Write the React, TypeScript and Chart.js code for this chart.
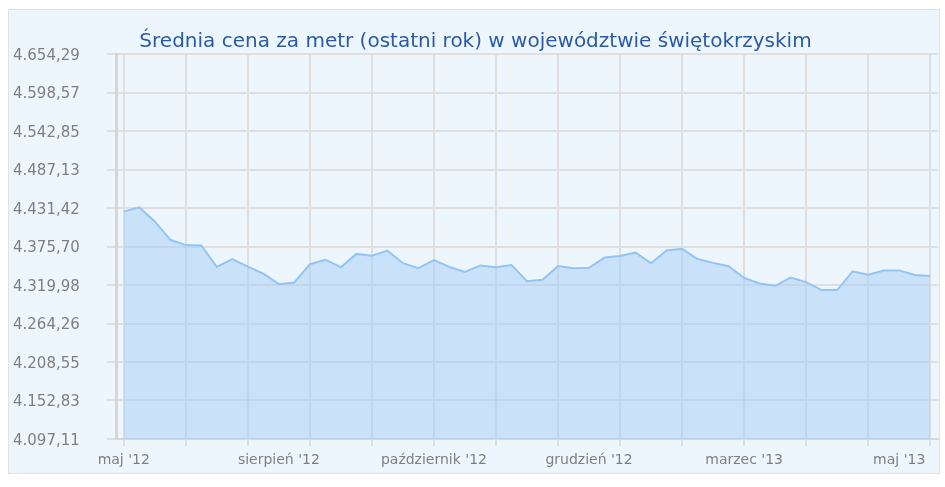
import { useEffect, useRef } from 'react';
import { Chart, registerables } from 'chart.js';

Chart.register(...registerables);

const chartTitle = 'Średnia cena za metr (ostatni rok) w województwie świętokrzyskim';

// weekly average price per m² (53 weeks)
const prices = [
  4426.2, 4432.3, 4412.0, 4385.4, 4377.7, 4377.1, 4346.1, 4357.5, 4346.6, 4336.4,
  4321.2, 4323.6, 4350.1, 4356.6, 4345.7, 4365.0, 4362.4, 4369.7, 4351.5, 4344.3,
  4355.9, 4346.1, 4338.9, 4348.3, 4345.7, 4348.8, 4325.5, 4327.7, 4347.3, 4344.3,
  4345.0, 4359.7, 4362.1, 4366.8, 4351.5, 4369.8, 4372.3, 4357.5, 4352.0, 4347.2,
  4330.2, 4322.2, 4318.8, 4330.6, 4324.1, 4312.7, 4312.7, 4339.9, 4335.0, 4340.8,
  4341.1, 4334.5, 4333.1,
];

const weeks = prices.map((_, i) => String(i));

const yTicks = [
  4097.11, 4152.83, 4208.55, 4264.26, 4319.98, 4375.7, 4431.42, 4487.13, 4542.85, 4598.57, 4654.29,
];

const xTickIndices = [0, 10, 20, 30, 40, 50];
const xTickLabels = ["maj '12", "sierpień '12", "październik '12", "grudzień '12", "marzec '13", "maj '13"];
const gridEvery = 4;

function formatPl(v: number): string {
  const [intPart, dec] = v.toFixed(2).split('.');
  return intPart.replace(/\B(?=(\d{3})+(?!\d))/g, '.') + ',' + dec;
}

export default function App() {
  const canvasRef = useRef<HTMLCanvasElement | null>(null);

  useEffect(() => {
    const canvas = canvasRef.current;
    if (!canvas) return;
    const gridColor = '#dfdfdf';
    const chart = new Chart(canvas, {
      type: 'line',
      data: {
        labels: weeks,
        datasets: [
          {
            data: prices,
            borderColor: '#93c5f4',
            backgroundColor: 'rgba(164,206,247,0.5)',
            borderWidth: 2,
            fill: 'start',
            tension: 0,
            pointRadius: 0,
            pointHoverRadius: 0,
          },
        ],
      },
      options: {
        animation: false,
        responsive: false,
        devicePixelRatio: 1,
        layout: { padding: { left: 4, right: 1, top: 0, bottom: 0 } },
        plugins: {
          legend: { display: false },
          tooltip: { enabled: false },
          title: {
            display: true,
            text: chartTitle,
            color: '#2b5ba8',
            font: { family: 'DejaVu Sans', size: 20, weight: 'normal', lineHeight: 1.2 },
            padding: { top: 20, bottom: 0 },
          },
        },
        scales: {
          x: {
            type: 'category',
            offset: true,
            grid: {
              offset: false,
              color: (ctx: any) => (ctx.index % gridEvery === 0 ? gridColor : 'rgba(0,0,0,0)'),
              lineWidth: (ctx: any) => (ctx.index % gridEvery === 0 ? 2 : 0),
              tickLength: 7,
            },
            border: { display: true, color: '#d6d6d6', width: 2 },
            ticks: {
              autoSkip: false,
              maxRotation: 0,
              minRotation: 0,
              padding: 6,
              color: '#7f7f7f',
              font: { family: 'DejaVu Sans', size: 14 },
              callback: (_v: any, index: number) => {
                const k = xTickIndices.indexOf(index);
                return k >= 0 ? xTickLabels[k] : '';
              },
            },
            afterFit: (scale: any) => {
              scale.height = 34;
            },
          },
          y: {
            type: 'linear',
            min: yTicks[0],
            max: yTicks[yTicks.length - 1],
            grid: { color: gridColor, lineWidth: 2, tickLength: 9 },
            border: { display: true, color: '#d6d6d6', width: 3 },
            afterBuildTicks: (scale: any) => {
              scale.ticks = yTicks.map((v) => ({ value: v }));
            },
            ticks: {
              crossAlign: 'far',
              padding: 20,
              labelOffset: 2,
              color: '#7f7f7f',
              font: { family: 'DejaVu Sans', size: 15 },
              callback: (v: any) => formatPl(Number(v)),
            },
            afterFit: (scale: any) => {
              scale.width = 103;
            },
          },
        },
      },
    } as any);
    return () => chart.destroy();
  }, []);

  return (
    <div
      style={{
        position: 'absolute',
        left: 8,
        top: 9,
        width: 932,
        height: 465,
        boxSizing: 'border-box',
        border: '1px solid #dbe2e9',
        background: '#eef6fd',
      }}
    >
      <canvas ref={canvasRef} width={930} height={463} style={{ display: 'block' }} />
    </div>
  );
}
